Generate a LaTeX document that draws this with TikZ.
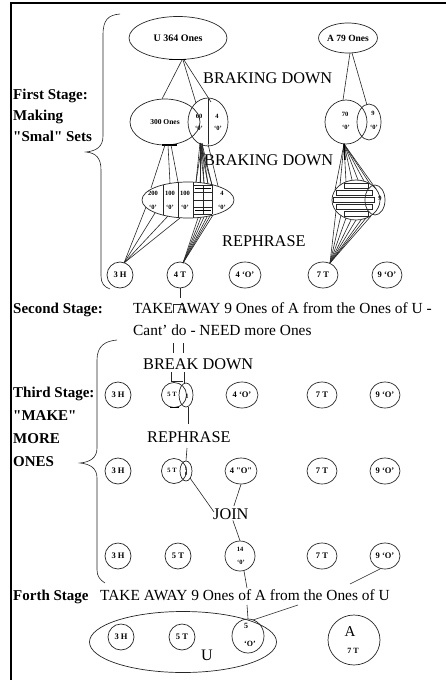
\documentclass[tikz,border=0pt]{standalone}
\usepackage{fontspec}
\setmainfont{Liberation Serif}
\usetikzlibrary{shapes.geometric,calc}
\begin{document}
\begin{tikzpicture}[x=1pt,y=-1pt,
  ln/.style={draw=black!85, line width=0.6pt},
  ell/.style={ellipse, draw=black!85, line width=0.7pt, inner sep=0pt},
  circ/.style={ellipse, draw=black!85, line width=0.7pt, inner sep=0pt,
     minimum width=26pt, minimum height=26pt, font=\fontsize{8.5}{9}\selectfont\bfseries},
  wcirc/.style={circ, minimum width=32pt},
  head/.style={font=\fontsize{16.3}{17}\selectfont, inner sep=0pt, anchor=base west},
  txt/.style={font=\fontsize{15.4}{16}\selectfont, inner sep=0pt, anchor=base west},
  stage/.style={font=\fontsize{15}{16}\selectfont\bfseries, inner sep=0pt, anchor=base west},
  tiny/.style={font=\fontsize{6.5}{7}\selectfont\bfseries, inner sep=0pt},
  small/.style={font=\fontsize{8}{8}\selectfont\bfseries, inner sep=0pt},
]
\useasboundingbox (0,0) rectangle (446,680);
% frame
\draw[line width=1.4pt] (446,3) -- (11,3) -- (11,680);

% ---------- stage labels ----------
\node[stage] (s1a) at (13,99) {First Stage:};
\node[stage] (s1b) at (13,120) {Making};
\node[stage] (s1c) at (13,141) {\textquotedbl Smal\textquotedbl\ Sets};
\node[stage] (s2) at (13,313) {Second Stage:};
\node[stage] (s3a) at (13,397) {Third Stage:};
\node[stage] (s3b) at (13,420) {\textquotedbl MAKE\textquotedbl};
\node[stage] (s3c) at (13,443) {MORE};
\node[stage] (s3d) at (13,466) {ONES};
\node[stage] (s4) at (13,600) {Forth Stage};

% braces
\draw[ln] (120,14) .. controls (108,15) and (103,20) .. (103,35) -- (103,136)
  .. controls (103,147) and (96,151) .. (86,152) .. controls (96,153) and (101,158) .. (101,170)
  -- (101,276) .. controls (101,283) and (104,287) .. (110,289);
\draw[ln] (117,340) .. controls (105,341) and (97,346) .. (97,360) -- (97,448)
  .. controls (97,458) and (90,462) .. (80,463) .. controls (90,464) and (97,468) .. (97,478)
  -- (97,570) .. controls (97,576) and (100,580) .. (105,583);

% ---------- first stage ----------
\node[ell, minimum width=98pt, minimum height=43pt, font=\fontsize{10}{10}\selectfont\bfseries] (u1) at (178,38) {U 364 Ones};
\node[ell, minimum width=56pt, minimum height=30pt, font=\fontsize{9.5}{10}\selectfont\bfseries] (a1) at (348,38) {A 79 Ones};
\node[head] (bd1) at (203,83) {BRAKING DOWN};

\node[ell, minimum width=70pt, minimum height=46pt, font=\fontsize{7.5}{8}\selectfont\bfseries] (u2) at (165,122) {300 Ones};
\node[ell, minimum width=40pt, minimum height=48pt] (u2b) at (208,122) {};
\draw[ln] ($(u2b)+(0,-23)$) -- ($(u2b)+(0,22)$);
\node[tiny] (u2l1) at (199,116) {60};
\node[tiny] (u2l2) at (199,128) {`0'};
\node[tiny] (u2l3) at (217,116) {4};
\node[tiny] (u2l4) at (218,128) {`0'};

\node[ell, minimum width=42pt, minimum height=44pt] (a2) at (346,122) {};
\node[ell, minimum width=24pt, minimum height=36pt] (a2b) at (369,122) {};
\node[tiny] (a2l1) at (345,114) {70};
\node[tiny] (a2l2) at (346,127) {`0'};
\node[tiny] (a2l3) at (373,113) {9};
\node[tiny] (a2l4) at (374,127) {`0'};

\draw[line width=1.6pt] ($(u1)+(-9,21.5)$) -- ($(u1)+(8,21.5)$);
\draw[ln] ($(u1)+(4,22)$) -- ($(u2)+(-3,-23)$);
\draw[ln] ($(u1)+(5,22)$) -- ($(u2b)+(-12,-19)$);
\draw[ln] ($(u1)+(6,22)$) -- ($(u2b)+(3,-20)$);
\draw[ln] ($(a1)+(2,15)$) -- ($(a2)+(-3,-22)$);
\draw[ln] ($(a1)+(4,15)$) -- ($(a2b)+(-2,-17)$);

\node[head] (bd2) at (204,165) {BRAKING DOWN};

% level 3 U
\node[ell, minimum width=92pt, minimum height=36pt] (u3) at (188,200) {};
\draw[ln] ($(u3)+(-25,-15)$) -- ($(u3)+(-25,15)$);
\draw[ln] ($(u3)+(-10,-17.6)$) -- ($(u3)+(-10,17.6)$);
\draw[ln] ($(u3)+(5,-17.8)$) -- ($(u3)+(5,17.8)$);
\foreach \yy in {185,192,200,207,214} \draw[ln] (194,\yy) -- (212,\yy);
\draw[ln] (203,185) -- (203,214);
\draw[ln] (212,185) -- (212,214);
\draw[line width=1.4pt] (195,188.5) -- (211,188.5);
\draw[line width=1.4pt] (195,210.5) -- (211,210.5);
\node[tiny] (u3l1) at (153,193) {200};
\node[tiny] (u3l2) at (153,207) {`0'};
\node[tiny] (u3l3) at (170,193) {100};
\node[tiny] (u3l4) at (170,207) {`0'};
\node[tiny] (u3l5) at (185,193) {100};
\node[tiny] (u3l6) at (185,207) {`0'};
\node[tiny] (u3l7) at (222,193) {4};
\node[tiny] (u3l8) at (222,207) {`0'};

% level 3 A
\node[ell, minimum width=48pt, minimum height=40pt] (a3) at (356,200) {};
\node[ell, minimum width=20pt, minimum height=30pt] (a3b) at (375,200) {};
\draw[ln] (344,183) rectangle (368,188);
\draw[ln] (336,190) rectangle (372,195);
\draw[ln] (333,197) rectangle (374,202);
\draw[ln] (336,204) rectangle (372,209);
\draw[ln] (344,211) rectangle (368,216);
\node[tiny] (a3l1) at (380,198) {9};

% U2 -> U3
\draw[line width=1.6pt] ($(u2)+(-3,23)$) -- ($(u2)+(12,23)$);
\draw[ln] ($(u2)+(0,23)$) -- ($(u3)+(-37,-12)$);
\draw[ln] ($(u2)+(3,23)$) -- ($(u3)+(-18,-17)$);
\draw[ln] ($(u2)+(6,23)$) -- ($(u3)+(-10,-18)$);
\foreach \dx/\dy in {8/-18,12/-17.5,16/-17,20/-16,24/-15} {
  \draw[ln] ($(u2b)+(-8,21)$) -- ($(u3)+(\dx,\dy)$);
  \draw[ln] ($(u2b)+(-6,21.5)$) -- ($(u3)+(\dx,\dy)$);
}
\draw[ln] ($(u2b)+(0,22)$) -- ($(u3)+(30,-14)$);

% A2 -> A3
\foreach \dx/\dy in {-21/-10,-16/-15,-10/-18,-4/-20,2/-20,8/-19,14/-16,20/-11}
  \draw[ln] ($(a2)+(-2,22)$) -- ($(a3)+(\dx,\dy)$);
\draw[line width=1.5pt] ($(a2)+(-2,22)$) -- ($(a2)+(-1,38)$);

\node[head] (rp1) at (222,246) {REPHRASE};

% row 1
\node[circ] (r1a) at (120,275) {3 H};
\node[circ] (r1b) at (180,275) {4 T};
\node[wcirc] (r1c) at (245,275) {4 `O'};
\node[circ, minimum width=30pt] (r1d) at (323,275) {7 T};
\node[circ, minimum width=30pt] (r1e) at (387,275) {9 `O'};

\foreach \dx/\dy in {-42/7,-33/13,-20/16,-8/18}
  \draw[ln] ($(r1a)+(4,-12)$) -- ($(u3)+(\dx,\dy)$);
\foreach \dx/\dy in {10/18,13/17.5,16/17,19/17,22/16,25/15}
  \draw[ln] ($(r1b)+(3,-12)$) -- ($(u3)+(\dx,\dy)$);
\foreach \dx/\dy in {-20/11,-15/15,-10/18,-5/20,0/20,5/20,10/18,15/16}
  \draw[ln] ($(r1d)+(7,-12)$) -- ($(a3)+(\dx,\dy)$);

% ---------- second stage ----------
\coordinate (t1) at (180,298);
\draw[ln] (r1b.south) -- (t1);
\node[txt] (tk1) at (133,313) {TAKE AWAY 9 Ones of A from the Ones of U -};
\node[txt] (tk2) at (133,335) {Cant' do - NEED more Ones};
\draw[ln] (173,313) -- (173,304) -- (183,304) -- (183,313);
\draw[ln] (173,343) -- (173,353);
\draw[ln] (183,343) -- (183,353);

% ---------- third stage ----------
\node[head] (bk) at (143,369) {BREAK DOWN};

% row 2
\node[circ] (r2a) at (118,395) {3 H};
\node[ell, minimum width=25pt, minimum height=25pt] (r2b) at (174,395) {};
\node[ell, minimum width=14pt, minimum height=24pt] (r2bb) at (186,395) {};
\node[tiny] (r2bl1) at (172,394) {5 T};
\node[tiny] (r2bl2) at (187,396) {1};
\node[wcirc] (r2c) at (242,395) {4 `O'};
\node[circ, minimum width=30pt] (r2d) at (322,395) {7 T};
\node[circ, minimum width=30pt] (r2e) at (385,395) {9 `O'};
\draw[ln] (171,372) -- (171,381) -- (183,381);
\draw[ln] (184,372) -- (184,384);
\draw[line width=1.4pt] ($(r2b)+(-4,12.5)$) -- ($(r2b)+(5,12.5)$);
\coordinate (t2) at (188,424);
\draw[ln] ($(r2bb)+(2,12)$) -- (t2);

\node[head] (rp2) at (147,442) {REPHRASE};

% row 3
\node[circ] (r3a) at (118,471) {3 H};
\node[ell, minimum width=25pt, minimum height=25pt] (r3b) at (174,471) {};
\node[ell, minimum width=12pt, minimum height=20pt] (r3bb) at (186,471) {};
\node[tiny] (r3bl1) at (172,470) {5 T};
\node[font=\fontsize{5}{5}\selectfont\bfseries, inner sep=0pt, align=center] (r3bl2) at (186,471) {1\\0};
\node[wcirc] (r3c) at (241,471) {4 \textquotedbl O\textquotedbl};
\node[circ, minimum width=30pt] (r3d) at (322,471) {7 T};
\node[circ, minimum width=30pt] (r3e) at (385,471) {9 `O'};
\coordinate (t3) at (187,448);
\draw[ln] (t3) -- (r3bb.north);
\node[head] (jn) at (213,519) {JOIN};
\draw[ln] ($(r3bb)+(4,7)$) -- ($(jn.north west)+(1,4)$);
\draw[ln] (r3c.south) -- ($(jn.north)+(3,-2)$);

% row 4
\node[circ] (r4a) at (118,556) {3 H};
\node[circ] (r4b) at (178,556) {5 T};
\node[circ, minimum width=30pt, minimum height=30pt] (r4c) at (240,556) {};
\node[tiny] (r4cl1) at (240,549) {14};
\node[tiny] (r4cl2) at (241,562) {`0'};
\node[circ, minimum width=30pt] (r4d) at (322,556) {7 T};
\node[circ, minimum width=30pt] (r4e) at (385,556) {9 `O'};
\draw[ln] ($(jn.south)+(2,1)$) -- (r4c.north);

% ---------- forth stage ----------
\node[txt] (tk3) at (100,600) {TAKE AWAY 9 Ones of A from the Ones of U};
\coordinate (t4) at (247,588);
\coordinate (t5) at (350,584);
\draw[ln] ($(r4c)+(4,15)$) -- (t4);
\draw[ln] ($(r4e)+(-5,13)$) -- (t5);

\node[ell, minimum width=187pt, minimum height=61pt] (ub) at (183,642) {};
\node[circ] (b1) at (121,637) {3 H};
\node[circ] (b2) at (182,637) {5 T};
\node[circ, minimum width=32pt, minimum height=34pt] (b3) at (248,636) {};
\node[small] (b3l1) at (246,626) {5};
\node[small] (b3l2) at (250,644) {`O'};
\node[font=\fontsize{16}{16}\selectfont, inner sep=0pt] (ul) at (207,655) {U};
\node[ell, minimum width=52pt, minimum height=50pt] (ab) at (354,640) {};
\node[font=\fontsize{15}{15}\selectfont, inner sep=0pt] (al) at (350,632) {A};
\node[small] (al2) at (353,651) {7 T};
\draw[ln] (247,605) -- (b3.north);
\draw[ln] (298,605) -- ($(b3)+(5,-16)$);
\end{tikzpicture}
\end{document}
